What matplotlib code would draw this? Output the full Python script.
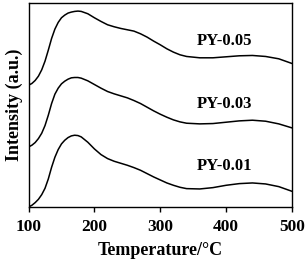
import matplotlib
matplotlib.use("Agg")
import matplotlib.pyplot as plt

# temperature axis (°C)
temp = [100, 105, 110, 115, 120, 125, 130, 135, 140, 145, 150, 155, 160, 165,
        170, 175, 180, 190, 200, 210, 220, 230, 240, 250, 260, 270, 280, 290,
        300, 310, 320, 330, 340, 360, 380, 400, 420, 440, 460, 480, 490, 500]

# intensities (a.u.)
py_001 = [0, 5, 13, 23, 37, 56, 84, 119, 149, 172, 189, 200, 208, 213,
          215, 214, 210, 194, 174, 157, 145, 137, 131, 125, 118, 110, 100, 90,
          81, 72, 65, 59, 55, 54, 58, 65, 70, 72, 69, 61, 54, 47]
py_003 = [180, 185, 193, 205, 221, 244, 275, 310, 338, 356, 369, 377, 383, 387,
          388, 388, 386, 378, 367, 356, 346, 339, 333, 327, 319, 310, 299, 288,
          278, 269, 261, 255, 251, 249, 250, 254, 258, 260, 257, 249, 243, 237]
py_005 = [365, 370, 379, 392, 411, 437, 470, 505, 533, 553, 567, 575, 581, 584,
          586, 587, 586, 579, 567, 556, 546, 540, 535, 531, 527, 519, 509, 497,
          486, 474, 464, 456, 451, 447, 447, 450, 453, 454, 451, 444, 437, 430]

labels = ["PY-0.01", "PY-0.03", "PY-0.05"]
label_y = [122, 308, 498]

plt.rcParams["font.family"] = "Liberation Serif"
plt.rcParams["font.weight"] = "bold"

fig = plt.figure(figsize=(3.07, 2.62), dpi=100)
ax = fig.add_axes([0.093, 0.21, 0.858, 0.777])

for ys in (py_001, py_003, py_005):
    ax.plot(temp, ys, color="black", lw=1.1)

for lab, yy in zip(labels, label_y):
    ax.text(397, yy, lab, ha="center", va="center", fontsize=12, fontweight="bold")

ax.set_xlim(100, 500)
ax.set_ylim(0, 610)
ax.set_xticks([100, 200, 300, 400, 500])
ax.set_yticks([])
ax.tick_params(axis="x", direction="out", length=3.5, width=1, labelsize=12.5, pad=5)
for lbl in ax.get_xticklabels():
    lbl.set_fontweight("bold")
for s in ax.spines.values():
    s.set_linewidth(1.0)

ax.set_xlabel("Temperature/°C", fontsize=13, fontweight="bold", labelpad=5)
ax.set_ylabel("Intensity (a.u.)", fontsize=13, fontweight="bold", labelpad=4)

fig.savefig("out.png", dpi=100)
